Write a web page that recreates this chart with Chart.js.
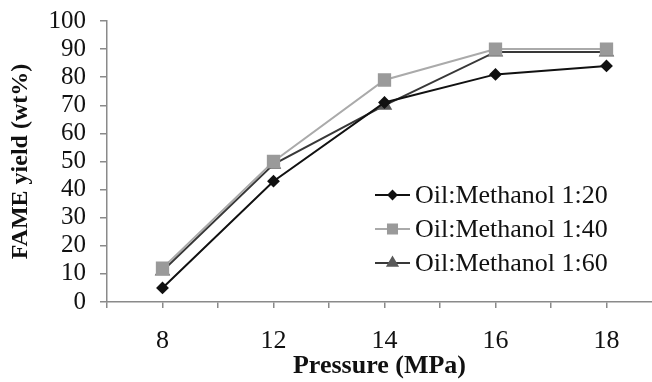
<!DOCTYPE html>
<html>
<head>
<meta charset="utf-8">
<script src="https://cdn.jsdelivr.net/npm/chart.js@4.4.1/dist/chart.umd.min.js"></script>
<style>
  html, body { margin: 0; padding: 0; background: #fff; overflow: hidden; }
  #wrap { width: 652px; height: 382px; position: relative; }
</style>
</head>
<body>
<div id="wrap"><canvas id="yieldChart"></canvas></div>
<script>
const pressures = ["8", "12", "14", "16", "18"];
const ratio20 = [5, 43, 71, 81, 84];
const ratio40 = [12, 50, 79, 90, 90];
const ratio60 = [11, 49, 70, 89, 89];
const seriesNames = ["Oil:Methanol 1:20", "Oil:Methanol 1:40", "Oil:Methanol 1:60"];

const serif = "'Liberation Serif', 'Times New Roman', serif";
const axisGray = "#8a8a8a";

// points sit on category index so the spacing matches the original (8 -> 12 same as 12 -> 14)
const toPoints = vals => vals.map((v, i) => ({ x: i, y: v }));

// legend drawn inside the plot, lower right
const insideLegend = {
  id: "insideLegend",
  afterDraw(chart) {
    const ctx = chart.ctx;
    const area = chart.chartArea;
    const x0 = area.right - 277;
    const y0 = area.top + 174;
    const rowH = 34;
    ctx.save();
    chart.data.datasets.forEach((ds, i) => {
      const y = y0 + i * rowH;
      ctx.strokeStyle = ds.borderColor;
      ctx.lineWidth = 2;
      ctx.beginPath();
      ctx.moveTo(x0, y);
      ctx.lineTo(x0 + 35, y);
      ctx.stroke();
      ctx.fillStyle = ds.pointBackgroundColor;
      ctx.strokeStyle = ds.pointBackgroundColor;
      Chart.helpers.drawPoint(ctx, {
        pointStyle: ds.pointStyle,
        radius: ds.pointRadius * 0.8,
        rotation: 0,
        borderWidth: 1
      }, x0 + 17.5, y);
      ctx.fillStyle = "#111";
      ctx.font = "26px " + serif;
      ctx.textBaseline = "middle";
      ctx.textAlign = "left";
      ctx.fillText(ds.label, x0 + 40, y + 1);
    });
    ctx.restore();
  }
};

new Chart(document.getElementById("yieldChart"), {
  type: "line",
  data: {
    datasets: [
      {
        label: seriesNames[0],
        data: toPoints(ratio20),
        borderColor: "#111111",
        pointBackgroundColor: "#111111",
        pointBorderColor: "#111111",
        pointStyle: "rectRot",
        pointRadius: 5,
        borderWidth: 2
      },
      {
        label: seriesNames[1],
        data: toPoints(ratio40),
        borderColor: "#aaaaaa",
        pointBackgroundColor: "#9a9a9a",
        pointBorderColor: "#9a9a9a",
        pointStyle: "rect",
        pointRadius: 8,
        borderWidth: 2
      },
      {
        label: seriesNames[2],
        data: toPoints(ratio60),
        borderColor: "#383838",
        pointBackgroundColor: "#595959",
        pointBorderColor: "#595959",
        pointStyle: "triangle",
        pointRadius: 7,
        borderWidth: 2
      }
    ]
  },
  options: {
    responsive: true,
    maintainAspectRatio: false,
    animation: false,
    // the original axis runs off the right edge of the picture
    layout: { autoPadding: false, padding: { top: 21, right: 0, left: 0, bottom: 0 } },
    plugins: {
      legend: { display: false },
      tooltip: { enabled: false }
    },
    scales: {
      x: {
        type: "linear",
        min: -0.5,
        max: 4.41,
        afterBuildTicks: scale => {
          const t = [];
          for (let v = -0.5; v <= 4; v += 0.5) t.push({ value: v });
          scale.ticks = t;
        },
        afterFit: scale => {
          scale.height = 80;
          scale.paddingLeft = 0;
          scale.paddingRight = 0;
        },
        ticks: {
          autoSkip: false,
          maxRotation: 0,
          padding: 18,
          color: "#111",
          font: { family: serif, size: 26 },
          callback: v => Number.isInteger(v) && v >= 0 ? pressures[v] : ""
        },
        grid: { drawOnChartArea: false, drawTicks: true, tickLength: 6, color: axisGray, lineWidth: 1.5 },
        border: { color: axisGray, width: 1.5 },
        title: {
          display: true,
          text: "Pressure (MPa)",
          color: "#111",
          font: { family: serif, size: 26, weight: "bold" },
          padding: { top: 0, bottom: 0 }
        }
      },
      y: {
        min: 0,
        max: 100,
        afterFit: scale => {
          scale.width = 107;
          scale.paddingTop = 0;
          scale.paddingBottom = 0;
        },
        ticks: {
          stepSize: 10,
          autoSkip: false,
          padding: 14,
          color: "#111",
          font: { family: serif, size: 25 }
        },
        grid: { drawOnChartArea: false, drawTicks: true, tickLength: 7, color: axisGray, lineWidth: 1.5 },
        border: { color: axisGray, width: 1.5 },
        title: {
          display: true,
          text: "FAME yield (wt%)",
          color: "#111",
          font: { family: serif, size: 24, weight: "bold" },
          padding: { top: 6, bottom: 0 }
        }
      }
    }
  },
  plugins: [insideLegend]
});
</script>
</body>
</html>
